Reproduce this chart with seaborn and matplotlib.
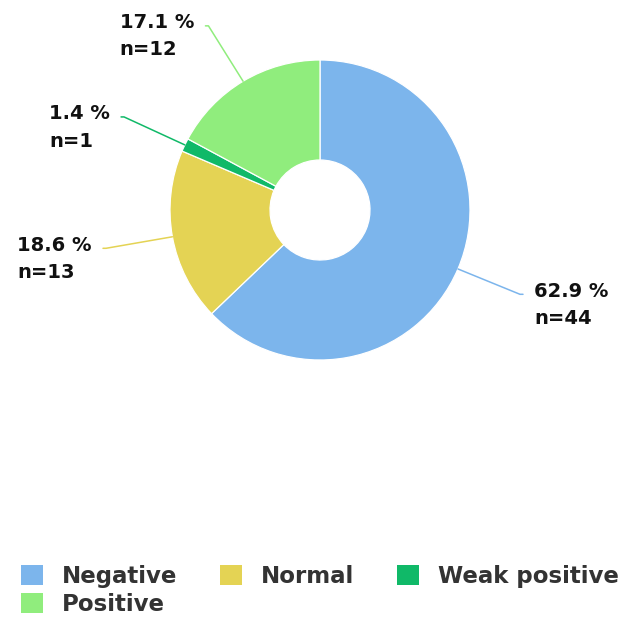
import numpy as np
import matplotlib
matplotlib.use('Agg')
import matplotlib.pyplot as plt
import matplotlib.patches as mpatches
import seaborn as sns

# Dados do gráfico
categorias = ['Negative', 'Normal', 'Weak positive', 'Positive']
contagens = [44, 13, 1, 12]
cores = ['#7cb5ec', '#e4d354', '#10b968', '#90ed7d']

sns.set_theme(style='white')
plt.rcParams['font.family'] = ['DejaVu Sans']
paleta = sns.color_palette(cores)

total = sum(contagens)
percentuais = [100 * c / total for c in contagens]

fig = plt.figure(figsize=(6.2, 6.2), dpi=100)
ax = fig.add_axes([0, 0, 1, 1])

# 1 unidade = 150 px
escala = 150.0
wedges, _ = ax.pie(contagens, colors=paleta, startangle=90, counterclock=False,
                   radius=1.0, center=(0, 0),
                   wedgeprops=dict(width=100 / escala, edgecolor='white', linewidth=0.9))
ax.set_xlim(-320 / escala, 300 / escala)
ax.set_ylim(-410 / escala, 210 / escala)
ax.set_aspect('equal')
ax.axis('off')

# Rótulos com linhas de conexão
for w, pct, n, cor in zip(wedges, percentuais, contagens, paleta):
    ang = np.deg2rad((w.theta1 + w.theta2) / 2)
    c, s = np.cos(ang), np.sin(ang)
    x1, y1 = c * 1.0, s * 1.0
    x2, y2 = c * 1.45, s * 1.43
    lado = 1 if c >= 0 else -1
    ax.plot([x1, x2, x2 + lado * 0.02], [y1, y2, y2], color=cor, lw=1.1,
            solid_capstyle='round', clip_on=False)
    ax.text(x2 + lado * 0.095, y2 - 0.07, f'{pct:.1f} %\nn={n}',
            ha='left' if lado > 0 else 'right', va='center', multialignment='left',
            fontsize=14, fontweight='bold', color='#111111', linespacing=1.55)

# Legenda (ordem ajustada para ficar em linhas)
handles = [mpatches.Patch(facecolor=cor, edgecolor='none') for cor in paleta]
ordem = [0, 3, 1, 2]
fig.legend([handles[i] for i in ordem], [categorias[i] for i in ordem],
           loc='upper left', bbox_to_anchor=(21 / 620, 1 - 565 / 620),
           ncol=3, frameon=False, labelcolor='#333333',
           prop=dict(weight='bold', size=16.5),
           handlelength=0.95, handleheight=0.95, handletextpad=0.85,
           columnspacing=1.85, labelspacing=0.2, borderpad=0, borderaxespad=0)

fig.savefig('out.png', dpi=100)
plt.close(fig)
